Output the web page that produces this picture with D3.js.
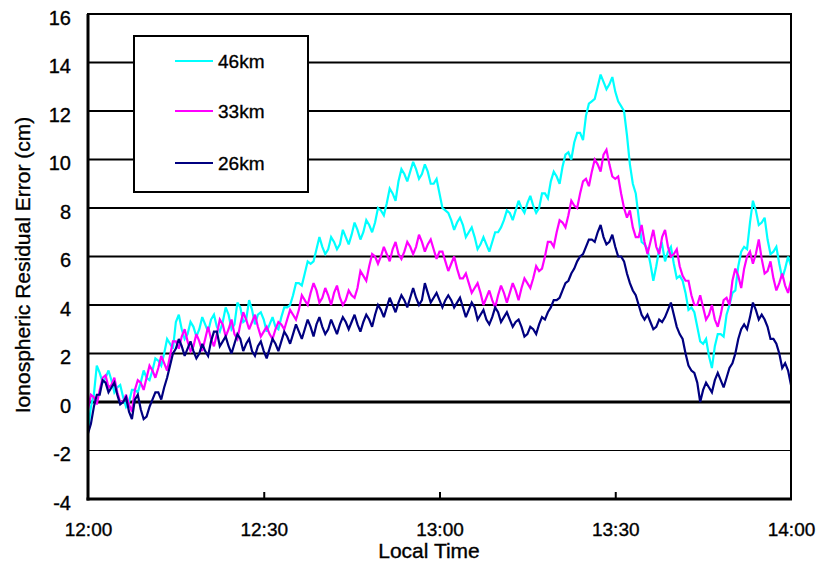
<!DOCTYPE html>
<html>
<head>
<meta charset="utf-8">
<script src="https://cdn.jsdelivr.net/npm/d3@7"></script>
<style>
  html, body { margin: 0; padding: 0; background: #fff; }
  svg { display: block; }
  text { font-family: "Liberation Sans", Arial, sans-serif; fill: #000; stroke: #000; stroke-width: 0.35px; }
</style>
</head>
<body>
<svg id="chart" width="817" height="572"></svg>
<script>
// ---- data (minutes after 12:00, values in cm) ----
// readings on each whole minute, 12:00 .. 14:00
const series46 = [-1.2,0.3,1.2,1.0,0.9,0.6,0.2,0.0,0.5,0.8,1.0,1.3,1.7,2.0,2.4,3.3,3.0,2.8,3.1,3.0,
  3.2,3.4,3.1,3.3,3.6,3.2,3.9,3.4,3.8,3.6,3.4,3.2,3.1,3.5,3.9,4.4,4.9,5.3,5.7,6.3,
  6.4,6.3,6.6,6.5,6.8,6.9,7.1,7.0,7.3,7.4,7.9,8.2,8.6,9.1,9.4,9.5,9.6,9.4,9.5,9.0,
  8.6,7.9,7.5,7.4,7.3,7.0,6.8,6.5,6.5,6.6,7.0,7.5,7.8,7.9,8.0,8.2,8.1,8.0,8.6,9.1,
  9.3,9.7,10.3,10.7,11.1,11.8,12.4,13.0,13.2,13.1,12.8,12.2,11.0,9.0,7.6,6.5,5.7,5.6,6.5,6.2,
  5.7,5.2,4.5,3.9,3.1,2.4,1.9,2.3,2.8,3.6,4.5,5.6,6.4,7.4,7.9,7.4,6.7,6.2,5.7,5.5,5.6];
// readings on each half minute (12:00:30 .. 13:59:30)
const series46Half = [-0.2,1.5,0.8,1.3,0.4,0.7,-0.2,0.5,0.4,1.3,0.9,1.8,1.5,2.6,2.2,3.6,2.6,3.3,2.7,3.5,
  2.9,3.6,2.9,3.9,3.0,4.1,3.3,4.2,3.2,3.7,2.9,3.5,3.0,3.9,4.0,4.9,4.8,5.8,5.8,6.8,
  6.1,6.8,6.3,7.1,6.5,7.4,6.7,7.5,7.0,8.0,7.7,8.8,8.3,9.6,9.1,9.9,9.2,9.8,9.0,9.2,
  8.0,7.8,7.1,7.6,6.8,7.2,6.3,6.8,6.2,7.0,7.2,7.9,7.5,8.3,7.8,8.5,7.8,8.6,8.4,9.5,
  9.0,10.2,10.0,11.1,10.8,12.3,12.5,13.5,12.9,13.4,12.4,12.0,9.8,8.6,6.6,6.3,5.0,6.3,5.8,6.4,
  5.1,5.0,3.8,3.7,2.5,2.6,1.4,2.8,2.7,4.0,4.6,6.2,6.3,8.3,7.3,7.6,6.1,6.4,5.1,6.0];
const series33 = [-0.3,0.2,0.5,1.1,0.7,0.4,0.0,-0.1,0.5,0.8,1.0,1.3,1.4,1.6,1.9,2.5,2.7,2.5,2.3,2.5,
  2.6,2.6,2.8,3.2,3.0,2.8,3.2,3.4,3.3,3.1,2.9,2.8,3.0,3.2,3.4,3.6,3.8,4.2,4.5,4.6,
  4.3,4.4,4.5,4.3,4.2,4.4,4.7,5.2,5.6,6.0,6.0,6.1,6.3,6.1,6.2,6.4,6.4,6.6,6.5,6.3,
  6.2,5.8,5.7,5.5,5.1,4.9,4.7,4.5,4.3,4.2,4.4,4.5,4.5,4.6,4.7,4.9,5.1,5.4,6.0,6.6,
  7.0,7.4,7.7,8.1,8.6,9.2,9.5,9.8,10.2,9.8,9.2,8.6,7.6,7.2,6.8,6.6,6.6,6.4,6.8,6.4,
  6.1,5.6,5.0,4.4,4.0,3.9,3.6,3.4,3.6,4.3,5.0,5.2,5.5,6.2,6.1,5.9,5.4,5.1,4.9,4.8,5.0];
const series33Half = [0.3,-0.1,1.0,0.6,1.0,0.0,0.3,-0.4,0.9,0.5,1.5,1.0,1.9,1.3,2.5,2.2,3.0,2.1,2.8,2.1,
  3.1,2.3,3.4,2.7,3.4,2.6,3.7,3.0,3.6,2.7,3.1,2.6,3.3,3.0,3.8,3.4,4.4,4.0,4.9,4.1,
  4.7,4.0,4.8,4.0,4.6,4.3,5.4,5.0,6.1,5.7,6.4,5.8,6.6,5.9,6.6,6.1,6.9,6.2,6.7,5.9,
  6.2,5.4,6.0,5.1,5.3,4.5,4.9,4.0,4.6,3.9,4.8,4.1,4.9,4.2,5.1,4.7,5.6,5.5,6.6,6.4,
  7.5,7.2,8.3,8.0,9.1,8.9,10.0,9.5,10.4,9.3,9.3,8.0,7.9,6.8,7.3,6.1,7.1,6.1,7.1,6.0,
  6.3,5.2,5.0,4.0,4.4,3.4,4.0,3.1,4.2,4.0,5.5,4.7,6.0,5.7,6.7,5.3,5.8,4.6,5.3,4.5];
const series26 = [-1.3,-0.2,0.3,0.8,0.6,0.3,0.0,-0.4,0.1,-0.3,-0.6,0.1,0.4,0.6,1.5,2.2,2.3,2.2,2.1,2.0,
  2.1,2.5,2.9,2.5,2.3,2.4,2.6,2.4,2.1,2.3,2.1,2.2,2.4,2.5,2.7,2.8,2.9,3.0,3.1,3.2,
  3.1,3.0,3.1,3.2,3.3,3.3,3.2,3.3,3.4,3.6,3.8,3.9,4.0,4.1,4.2,4.3,4.3,4.2,4.5,4.3,
  4.2,4.2,4.2,4.1,3.9,3.8,3.9,3.6,3.4,3.5,3.7,3.5,3.4,3.3,3.1,2.8,3.0,3.2,3.4,3.9,
  4.2,4.6,5.0,5.5,6.0,6.4,6.7,7.0,6.8,6.6,6.4,6.0,5.3,4.6,4.0,3.4,3.3,3.1,3.3,3.8,
  3.6,2.8,2.0,1.3,0.8,0.5,0.6,0.9,0.9,1.0,1.6,2.6,3.2,3.5,3.8,3.6,3.1,2.6,2.0,1.6,0.7];
const series26Half = [-0.9,0.3,0.9,0.4,0.8,-0.1,0.2,-0.7,0.3,-0.7,-0.2,0.4,0.1,1.0,2.0,2.6,1.9,2.5,1.8,2.4,
  1.9,2.9,2.3,2.7,2.0,2.8,2.1,2.6,1.9,2.5,1.8,2.6,2.1,2.9,2.4,3.2,2.6,3.4,2.7,3.5,
  2.8,3.4,2.8,3.5,3.0,3.6,2.9,3.6,3.1,4.0,3.5,4.3,3.7,4.4,3.9,4.7,4.0,4.9,4.1,4.5,
  3.9,4.4,3.9,4.3,3.5,4.1,3.4,3.8,3.2,3.9,3.3,3.7,3.1,3.4,2.7,3.1,2.8,3.5,3.7,4.2,
  4.3,4.9,5.3,5.8,6.1,6.7,6.6,7.3,6.5,6.9,6.0,5.8,4.9,4.4,3.6,3.6,3.0,3.4,3.5,4.1,
  3.1,2.6,1.5,1.2,0.0,0.8,0.4,1.2,0.6,1.4,2.0,3.0,3.0,4.1,3.4,3.4,2.6,2.4,1.4,1.3];
const seriesNames = ["46km", "33km", "26km"];
const seriesColors = ["#00FFFF", "#FF00FF", "#000080"];
const xTickValues = [0, 30, 60, 90, 120];
const xTickLabels = ["12:00", "12:30", "13:00", "13:30", "14:00"];
const yTickValues = [-4, -2, 0, 2, 4, 6, 8, 10, 12, 14, 16];

// interleave whole-minute and half-minute readings into [time, value] points
function toPoints(whole, half) {
  const pts = [];
  whole.forEach((v, i) => {
    pts.push([i, v]);
    if (i < half.length) pts.push([i + 0.5, half[i]]);
  });
  return pts;
}
const allSeries = [
  toPoints(series46, series46Half),
  toPoints(series33, series33Half),
  toPoints(series26, series26Half)
];

// ---- layout ----
const svg = d3.select("#chart");
const L = 88, R = 791, T = 14, B = 499;
const x = d3.scaleLinear().domain([0, 120]).range([L, R]);
const y = d3.scaleLinear().domain([-4, 16]).range([B, T]);

// gridlines
svg.append("g").selectAll("line")
  .data(yTickValues.filter(v => v > -4 && v < 16))
  .join("line")
  .attr("x1", L).attr("x2", R)
  .attr("y1", d => y(d)).attr("y2", d => y(d))
  .attr("stroke", "#000")
  .attr("stroke-width", d => d === 0 ? 3 : (d === -2 ? 1 : 2));

// series
const line = d3.line().x(d => x(d[0])).y(d => y(d[1]));
svg.append("g").selectAll("path")
  .data(allSeries)
  .join("path")
  .attr("d", d => line(d))
  .attr("fill", "none")
  .attr("stroke", (d, i) => seriesColors[i])
  .attr("stroke-width", 2.2)
  .attr("stroke-linejoin", "miter")
  .attr("stroke-miterlimit", 3);

// frame
svg.append("rect")
  .attr("x", L).attr("y", T).attr("width", R - L).attr("height", B - T)
  .attr("fill", "none").attr("stroke", "#000").attr("stroke-width", 2);
svg.append("line").attr("x1", L).attr("x2", L).attr("y1", T).attr("y2", B + 1.5)
  .attr("stroke", "#000").attr("stroke-width", 3);
svg.append("line").attr("x1", L - 1.5).attr("x2", R + 1).attr("y1", B).attr("y2", B)
  .attr("stroke", "#000").attr("stroke-width", 3);

// x axis
const xAxis = d3.axisBottom(x)
  .tickValues(xTickValues)
  .tickFormat((d, i) => xTickLabels[i])
  .tickSize(-7);
const gx = svg.append("g").attr("transform", `translate(0,${B})`).call(xAxis);
gx.select(".domain").remove();
gx.selectAll(".tick line").attr("stroke", "#000").attr("stroke-width", 2)
  .attr("display", d => (d === 0 || d === 120) ? "none" : null);
gx.selectAll(".tick text").attr("y", 24).attr("dy", "0.71em")
  .style("font-size", "19px").style("font-family", "'Liberation Sans', Arial, sans-serif");

// y axis
const yAxis = d3.axisLeft(y).tickValues(yTickValues).tickFormat(d => String(d))
  .tickSize(0).tickPadding(17);
const gy = svg.append("g").attr("transform", `translate(${L},0)`).call(yAxis);
gy.select(".domain").remove();
gy.selectAll(".tick text").attr("dy", "0.5em")
  .style("font-size", "20px").style("font-family", "'Liberation Sans', Arial, sans-serif");

// axis titles
svg.append("text")
  .attr("x", 429).attr("y", 558)
  .attr("text-anchor", "middle")
  .style("font-size", "21px")
  .text("Local Time");
svg.append("text")
  .attr("transform", "translate(30,265) rotate(-90)")
  .attr("text-anchor", "middle")
  .style("font-size", "21px")
  .text("Ionospheric Residual Error (cm)");

// legend
const lg = svg.append("g");
lg.append("rect").attr("x", 134).attr("y", 36).attr("width", 174).attr("height", 156)
  .attr("fill", "#fff").attr("stroke", "#000").attr("stroke-width", 2);
const legendY = [61, 111, 163];
seriesNames.forEach((name, i) => {
  lg.append("line").attr("x1", 175).attr("x2", 213)
    .attr("y1", legendY[i]).attr("y2", legendY[i])
    .attr("stroke", seriesColors[i]).attr("stroke-width", 2);
  lg.append("text").attr("x", 218).attr("y", legendY[i] + 7)
    .style("font-size", "19px").text(name);
});
</script>
</body>
</html>
